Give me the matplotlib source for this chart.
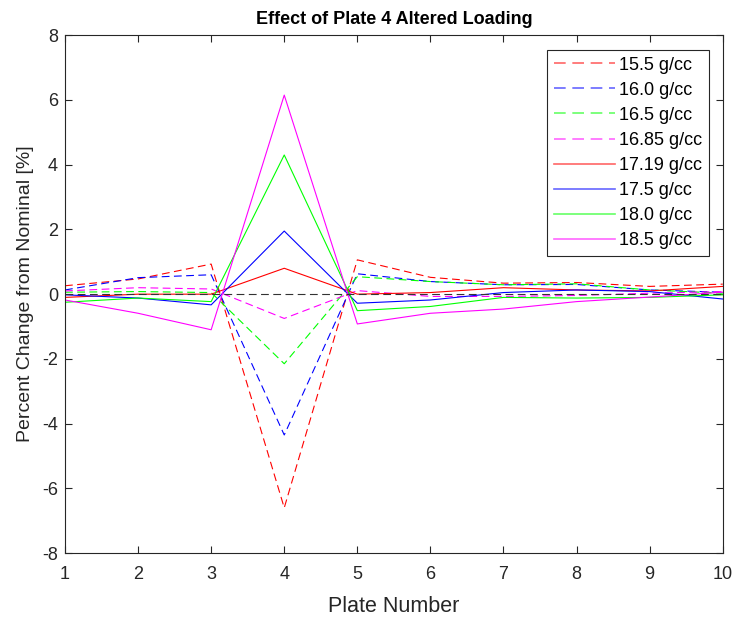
import matplotlib.pyplot as plt

plt.rcParams['font.family'] = ['Liberation Sans', 'DejaVu Sans']
plt.rcParams['axes.unicode_minus'] = False

plates = [1, 2, 3, 4, 5, 6, 7, 8, 9, 10]

# percent change from nominal for each altered plate 4 density
d155 = [0.26, 0.47, 0.93, -6.60, 1.06, 0.52, 0.34, 0.36, 0.24, 0.31]
d160 = [0.13, 0.51, 0.60, -4.35, 0.63, 0.39, 0.29, 0.30, 0.13, 0.06]
d165 = [0.06, 0.08, 0.05, -2.15, 0.54, 0.39, 0.29, 0.32, 0.13, 0.03]
d1685 = [0.10, 0.20, 0.16, -0.75, 0.11, -0.07, -0.07, -0.04, 0.03, 0.08]
d1719 = [-0.10, 0.00, 0.00, 0.80, 0.00, 0.05, 0.20, 0.13, 0.10, 0.24]
d175 = [-0.02, -0.12, -0.33, 1.95, -0.28, -0.18, 0.05, 0.13, 0.08, -0.15]
d180 = [-0.25, -0.12, -0.23, 4.30, -0.51, -0.38, -0.10, -0.12, -0.10, -0.02]
d185 = [-0.18, -0.59, -1.10, 6.15, -0.92, -0.59, -0.46, -0.23, -0.09, 0.06]
nominal = [0, 0, 0, 0, 0, 0, 0, 0, 0, 0]

labels = ["15.5 g/cc", "16.0 g/cc", "16.5 g/cc", "16.85 g/cc",
          "17.19 g/cc", "17.5 g/cc", "18.0 g/cc", "18.5 g/cc"]
series = [d155, d160, d165, d1685, d1719, d175, d180, d185]
colors = ['#ff0000', '#0000ff', '#00ff00', '#ff00ff',
          '#ff0000', '#0000ff', '#00ff00', '#ff00ff']
styles = ['--', '--', '--', '--', '-', '-', '-', '-']

fig = plt.figure(figsize=(7.36, 6.18), dpi=100)
ax = fig.add_axes([0.0883, 0.105, 0.8937, 0.838])

dash = (0, (7, 4))
for vals, lab, c, ls in zip(series, labels, colors, styles):
    ax.plot(plates, vals, color=c, linestyle=dash if ls == '--' else '-',
            linewidth=0.8, label=lab)
ax.plot(plates, nominal, color='#333333', linestyle=dash, linewidth=0.8)

ax.set_xlim(1, 10)
ax.set_ylim(-8, 8)
ax.set_xticks(plates)
ax.set_yticks(range(-8, 9, 2))
ax.tick_params(direction='in', top=True, right=True, labelsize=13,
               colors='#262626', length=5, width=0.8)
ax.tick_params(axis='x', pad=9)
ax.tick_params(axis='y', pad=5)
for s in ax.spines.values():
    s.set_color('#262626')
    s.set_linewidth(0.8)

ax.set_xlabel("Plate Number", fontsize=15.5, color='#262626', labelpad=10)
ax.set_ylabel("Percent Change from Nominal [%]", fontsize=14,
              color='#262626', labelpad=6)
ax.set_title("Effect of Plate 4 Altered Loading", fontsize=13,
             fontweight='bold', color='black', pad=8)

leg = ax.legend(loc='upper right', bbox_to_anchor=(0.979, 0.971), fontsize=13,
                fancybox=False, framealpha=1, edgecolor='#262626',
                handlelength=3.4, handletextpad=0.25, borderpad=0.35,
                labelspacing=0.45, borderaxespad=0)
leg.get_frame().set_linewidth(0.8)
for line in leg.get_lines():
    line.set_linewidth(1.2)
    line.set_alpha(0.6)

fig.savefig("out.png", dpi=100)
